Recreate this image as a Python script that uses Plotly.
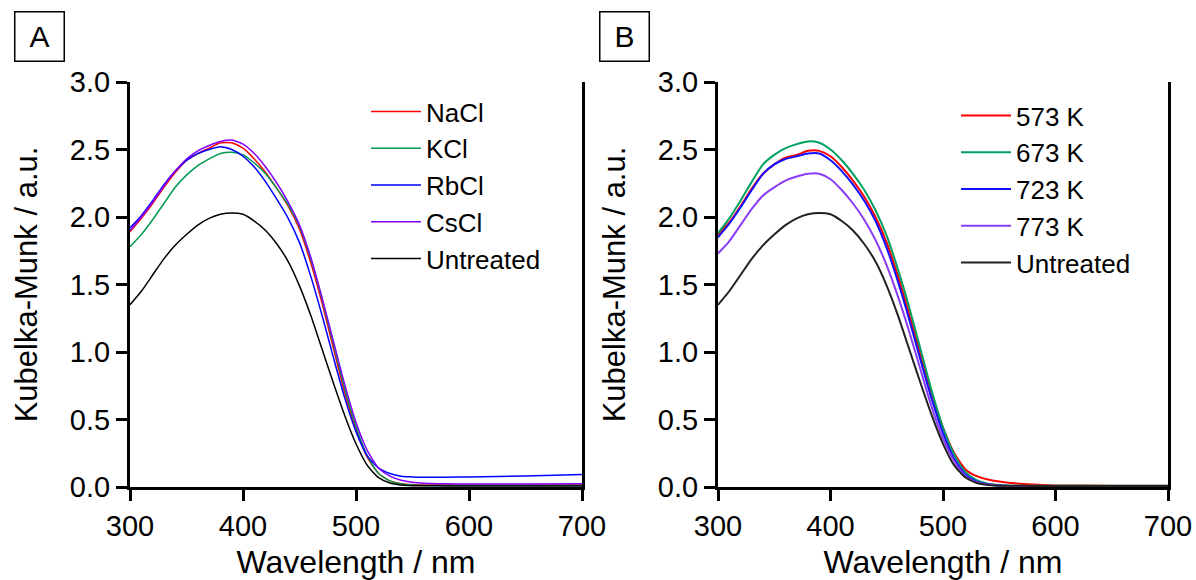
import plotly.graph_objects as go

# Wavelength grid (nm)
wl = [300, 310, 320, 330, 340, 350, 360, 370, 380, 390, 400, 410, 420, 430, 440,
      450, 460, 470, 480, 490, 500, 510, 520, 530, 540, 550, 560, 580, 600, 650, 700]

untreated = [1.35, 1.45, 1.57, 1.69, 1.79, 1.87, 1.94, 1.99, 2.02, 2.03, 2.02, 1.97, 1.90, 1.80, 1.67,
             1.49, 1.27, 1.02, 0.77, 0.53, 0.32, 0.16, 0.07, 0.03, 0.015, 0.01, 0.009, 0.008, 0.008, 0.008, 0.008]

# Panel A
nacl = [1.89, 1.99, 2.10, 2.22, 2.33, 2.42, 2.47, 2.51, 2.55, 2.55, 2.51, 2.43, 2.33, 2.21, 2.08,
        1.91, 1.66, 1.36, 1.03, 0.70, 0.43, 0.22, 0.10, 0.045, 0.025, 0.018, 0.015, 0.014, 0.014, 0.014, 0.014]
kcl = [1.78, 1.87, 1.98, 2.10, 2.22, 2.31, 2.38, 2.43, 2.47, 2.48, 2.46, 2.40, 2.32, 2.21, 2.09,
       1.93, 1.69, 1.39, 1.06, 0.73, 0.45, 0.23, 0.10, 0.045, 0.022, 0.015, 0.012, 0.012, 0.012, 0.012, 0.012]
rbcl = [1.92, 2.01, 2.12, 2.24, 2.34, 2.42, 2.47, 2.50, 2.52, 2.50, 2.45, 2.37, 2.26, 2.13, 1.99,
        1.81, 1.56, 1.27, 0.96, 0.66, 0.41, 0.23, 0.14, 0.10, 0.08, 0.075, 0.073, 0.073, 0.075, 0.082, 0.092]
cscl = [1.90, 2.00, 2.11, 2.23, 2.34, 2.43, 2.49, 2.53, 2.56, 2.57, 2.54, 2.47, 2.37, 2.25, 2.11,
        1.94, 1.70, 1.40, 1.08, 0.76, 0.48, 0.27, 0.14, 0.08, 0.05, 0.035, 0.028, 0.024, 0.022, 0.023, 0.025]

# Panel B
k573 = [1.87, 1.96, 2.08, 2.21, 2.32, 2.39, 2.44, 2.46, 2.49, 2.49, 2.45, 2.37, 2.27, 2.15, 2.00,
        1.81, 1.56, 1.28, 0.98, 0.69, 0.44, 0.25, 0.13, 0.08, 0.055, 0.04, 0.03, 0.018, 0.012, 0.01, 0.01]
k673 = [1.88, 1.99, 2.12, 2.26, 2.39, 2.46, 2.51, 2.54, 2.56, 2.55, 2.50, 2.42, 2.32, 2.20, 2.05,
        1.86, 1.61, 1.33, 1.02, 0.71, 0.44, 0.24, 0.11, 0.05, 0.025, 0.015, 0.01, 0.01, 0.01, 0.01, 0.01]
k723 = [1.85, 1.95, 2.07, 2.20, 2.32, 2.39, 2.43, 2.45, 2.47, 2.47, 2.42, 2.34, 2.24, 2.12, 1.97,
        1.77, 1.52, 1.24, 0.94, 0.65, 0.40, 0.21, 0.09, 0.04, 0.02, 0.012, 0.008, 0.008, 0.008, 0.008, 0.008]
k773 = [1.73, 1.82, 1.94, 2.06, 2.16, 2.22, 2.27, 2.30, 2.32, 2.32, 2.28, 2.20, 2.10, 1.98, 1.83,
        1.64, 1.41, 1.15, 0.87, 0.59, 0.36, 0.19, 0.08, 0.035, 0.018, 0.01, 0.008, 0.008, 0.008, 0.008, 0.008]

names_a = ["NaCl", "KCl", "RbCl", "CsCl", "Untreated"]
series_a = [nacl, kcl, rbcl, cscl, untreated]
colors_a = ["#ff0000", "#009a50", "#0000ff", "#8000ff", "#000000"]

names_b = ["573 K", "673 K", "723 K", "773 K", "Untreated"]
series_b = [k573, k673, k723, k773, untreated]
colors_b = ["#ff0000", "#00a060", "#1010ff", "#8a3cf5", "#222222"]

x_ticks = [300, 400, 500, 600, 700]
y_ticks = [0.0, 0.5, 1.0, 1.5, 2.0, 2.5, 3.0]

FONT = "Liberation Sans, Arial, sans-serif"

fig = go.Figure()
for n, s, c in zip(names_a, series_a, colors_a):
    fig.add_trace(go.Scatter(x=wl, y=s, name=n, mode="lines",
                             line=dict(color=c, width=1.5, shape="spline", smoothing=0.6),
                             xaxis="x", yaxis="y", legend="legend"))
for n, s, c in zip(names_b, series_b, colors_b):
    fig.add_trace(go.Scatter(x=wl, y=s, name=n, mode="lines",
                             line=dict(color=c, width=2, shape="spline", smoothing=0.6),
                             xaxis="x2", yaxis="y2", legend="legend2"))

W, H = 1196, 580
ax_common = dict(showgrid=False, zeroline=False, showline=True, linecolor="black", linewidth=3,
                 ticks="outside", ticklen=11, tickwidth=2.5, tickcolor="black", automargin=False,
                 tickfont=dict(family=FONT, size=29, color="black"))

xa = dict(ax_common, range=[300, 700], tickvals=x_ticks,
          title=dict(text="Wavelength / nm", font=dict(family=FONT, size=32, color="black"), standoff=13))
ya = dict(ax_common, range=[0, 3], tickvals=y_ticks, tickformat=".1f", mirror=True,
          title=dict(text="Kubelka-Munk / a.u.", font=dict(family=FONT, size=31, color="black"), standoff=24))

yb, yt = (580 - 487) / H, (580 - 82) / H
fig.update_layout(
    template="none",
    width=W, height=H,
    margin=dict(l=0, r=0, t=0, b=0, autoexpand=False),
    paper_bgcolor="white", plot_bgcolor="white",
    xaxis=dict(xa, domain=[130 / W, 582 / W], anchor="y"),
    yaxis=dict(ya, domain=[yb, yt], anchor="x"),
    xaxis2=dict(xa, domain=[718 / W, 1168 / W], anchor="y2"),
    yaxis2=dict(ya, domain=[yb, yt], anchor="x2"),
    legend=dict(x=366 / W, y=(580 - 88) / H, xanchor="left", yanchor="top",
                font=dict(family=FONT, size=26, color="black"), bgcolor="rgba(0,0,0,0)",
                itemwidth=50, tracegroupgap=0),
    legend2=dict(x=956 / W, y=(580 - 92) / H, xanchor="left", yanchor="top",
                 font=dict(family=FONT, size=26, color="black"), bgcolor="rgba(0,0,0,0)",
                 itemwidth=50, tracegroupgap=0),
    annotations=[
        dict(text="A", x=39 / W, y=(580 - 37) / H, xref="paper", yref="paper", showarrow=False,
             font=dict(family=FONT, size=30, color="black"), bordercolor="black", borderwidth=1.5,
             width=46, height=46, xanchor="center", yanchor="middle"),
        dict(text="B", x=624 / W, y=(580 - 37) / H, xref="paper", yref="paper", showarrow=False,
             font=dict(family=FONT, size=30, color="black"), bordercolor="black", borderwidth=1.5,
             width=46, height=46, xanchor="center", yanchor="middle"),
    ],
)

fig.write_html("out.html")
